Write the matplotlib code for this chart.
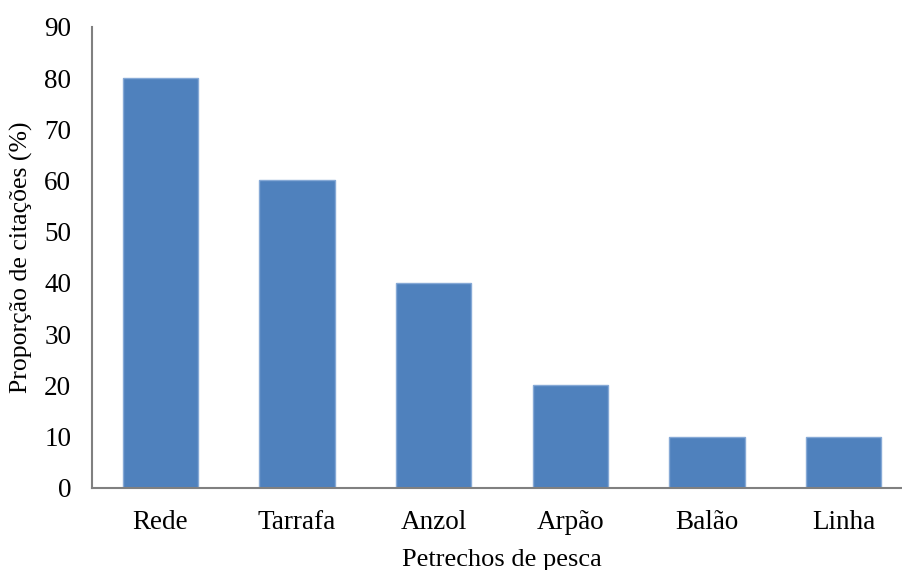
import matplotlib
matplotlib.use("Agg")
import matplotlib.pyplot as plt

categories = ["Rede", "Tarrafa", "Anzol", "Arpão", "Balão", "Linha"]
values = [80, 60, 40, 20, 10, 10]
yticks = [0, 10, 20, 30, 40, 50, 60, 70, 80, 90]

plt.rcParams['font.family'] = ['Liberation Serif', 'DejaVu Serif']

fig = plt.figure(figsize=(9.02, 5.70), dpi=100)
ax = fig.add_axes([0.102, 0.144, 0.909, 0.809])
x = list(range(len(categories)))
ax.bar(x, values, width=0.55, color="#4F81BD", edgecolor="#86A9D6", linewidth=1)
ax.set_xlim(-0.5, len(categories) - 0.5)
ax.set_ylim(0, 90)
ax.set_yticks(yticks)
ax.set_xticks(x)
ax.set_xticklabels(categories)
ax.tick_params(axis='both', length=0, labelsize=19.5, colors='black')
ax.tick_params(axis='y', pad=15)
ax.tick_params(axis='x', pad=16)
for s in ['top', 'right']:
    ax.spines[s].set_visible(False)
for s in ['left', 'bottom']:
    ax.spines[s].set_color('#808080')
    ax.spines[s].set_linewidth(1.5)
ax.set_ylabel("Proporção de citações (%)", fontsize=18.5, labelpad=8)
ax.set_xlabel("Petrechos de pesca", fontsize=19, labelpad=10)
fig.savefig("out.png", dpi=100)
